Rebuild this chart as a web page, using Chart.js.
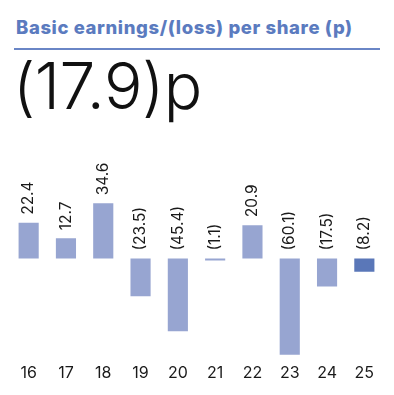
<!DOCTYPE html>
<html>
<head>
<meta charset="utf-8">
<script src="https://cdn.jsdelivr.net/npm/chart.js@4/dist/chart.umd.min.js"></script>
<style>
  html, body { margin: 0; padding: 0; background: #ffffff; }
  body { width: 394px; height: 395px; position: relative; overflow: hidden; font-family: Inter, "Liberation Sans", sans-serif; }
  #title { position: absolute; left: 16px; top: 16px; font-size: 18.5px; font-weight: 800; color: #5b7bbf; white-space: nowrap; letter-spacing: 0.6px; }
  #rule { position: absolute; left: 14px; top: 48px; width: 366px; height: 2px; background: #6a86c6; }
  #big { position: absolute; left: 13px; top: 48px; font-size: 64px; font-weight: 300; color: #111111; white-space: nowrap; letter-spacing: -0.5px; line-height: 76px; }
  #wrap { position: absolute; left: 0; top: 130px; width: 394px; height: 265px; }
</style>
</head>
<body>
<div id="title">Basic earnings/(loss) per share (p)</div>
<div id="rule"></div>
<div id="big">(17.9)p</div>
<div id="wrap"><canvas id="c"></canvas></div>
<script>
const categories = ["16", "17", "18", "19", "20", "21", "22", "23", "24", "25"];
const eps = [22.4, 12.7, 34.6, -23.5, -45.4, -1.1, 20.9, -60.1, -17.5, -8.2];
const barColors = ["#97a5d1", "#97a5d1", "#97a5d1", "#97a5d1", "#97a5d1", "#97a5d1", "#97a5d1", "#97a5d1", "#97a5d1", "#5a77b8"];

function fmt(v) {
  const s = Math.abs(v).toFixed(1);
  return v < 0 ? "(" + s + ")" : s;
}

const labelPlugin = {
  id: "rotLabels",
  afterDatasetsDraw(chart) {
    const ctx = chart.ctx;
    const meta = chart.getDatasetMeta(0);
    ctx.save();
    ctx.font = "400 15.5px Inter, 'Liberation Sans', sans-serif";
    ctx.fillStyle = "#1a1a1a";
    ctx.textAlign = "left";
    ctx.textBaseline = "middle";
    meta.data.forEach((el, i) => {
      const v = chart.data.datasets[0].data[i];
      const top = Math.min(el.y, el.base);
      ctx.save();
      ctx.translate(el.x, top - 8);
      ctx.rotate(-Math.PI / 2);
      ctx.fillText(fmt(v), 0, 0);
      ctx.restore();
    });
    ctx.restore();
  }
};

new Chart(document.getElementById("c"), {
  type: "bar",
  data: {
    labels: categories,
    datasets: [{
      data: eps,
      backgroundColor: barColors,
      borderWidth: 0,
      barPercentage: 0.54,
      categoryPercentage: 1.0
    }]
  },
  options: {
    responsive: true,
    maintainAspectRatio: false,
    animation: false,
    layout: { padding: { left: 10, right: 11, top: 8, bottom: 7 } },
    plugins: { legend: { display: false }, tooltip: { enabled: false } },
    scales: {
      x: {
        grid: { display: false, drawTicks: false },
        border: { display: false },
        ticks: { color: "#1a1a1a", font: { family: "Inter, 'Liberation Sans', sans-serif", size: 16 }, padding: 5.5, maxRotation: 0 }
      },
      y: {
        display: false,
        min: -62,
        max: 75.4
      }
    }
  },
  plugins: [labelPlugin]
});
</script>
</body>
</html>
